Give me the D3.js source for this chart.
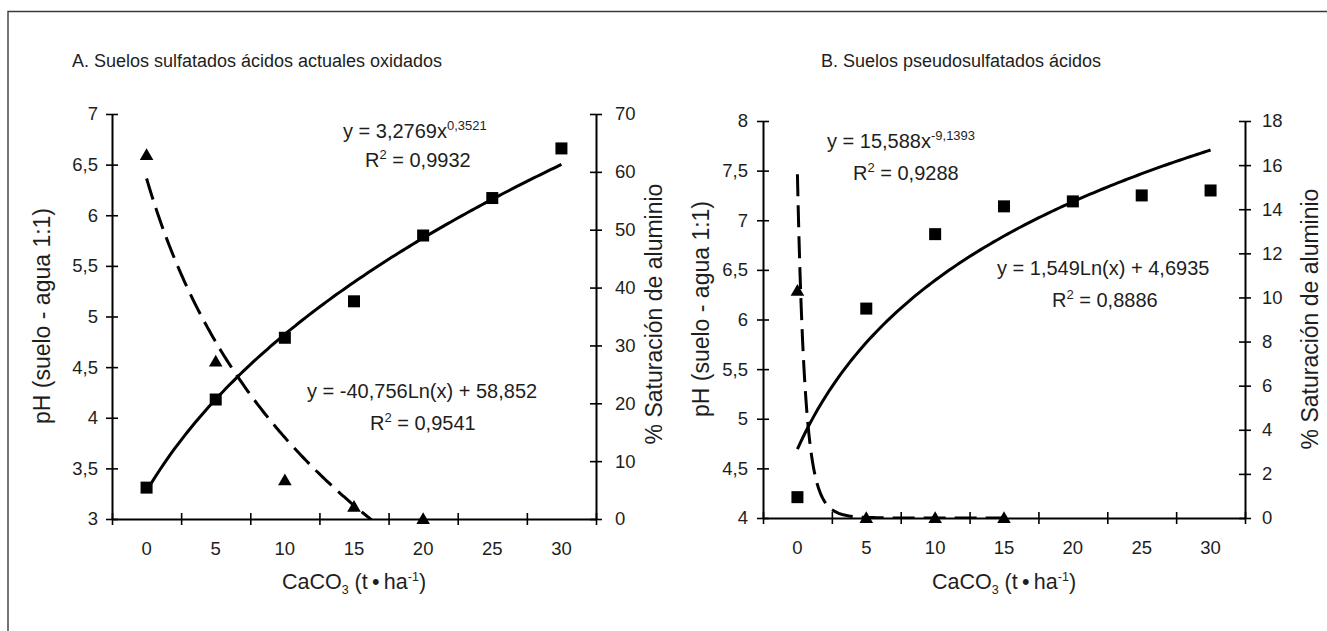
<!DOCTYPE html>
<html>
<head>
<meta charset="utf-8">
<script src="https://cdn.jsdelivr.net/npm/d3@7"></script>
<style>
  html, body { margin: 0; padding: 0; background: #fff; }
  svg { display: block; }
  text { font-family: "Liberation Sans", Arial, Helvetica, sans-serif; fill: #1e1e1e; }
</style>
</head>
<body>
<svg id="chart" width="1327" height="631"></svg>
<script>
// ---------------- data ----------------
const categories = [0, 5, 10, 15, 20, 25, 30];

// Panel A: Suelos sulfatados ácidos actuales oxidados
const phA = [3.31, 4.18, 4.79, 5.15, 5.80, 6.17, 6.66];
const alA = [62.9, 27.2, 6.7, 2.1, 0];           // at 0,5,10,15,20
// Panel B: Suelos pseudosulfatados ácidos
const phB = [4.21, 6.11, 6.86, 7.14, 7.19, 7.25, 7.30];
const alB = [10.3, 0, 0, 0];                      // at 0,5,10,15

const titles = ["A. Suelos sulfatados ácidos actuales oxidados", "B. Suelos pseudosulfatados ácidos"];
const phTicksA = [3, 3.5, 4, 4.5, 5, 5.5, 6, 6.5, 7];
const alTicksA = [0, 10, 20, 30, 40, 50, 60, 70];
const phTicksB = [4, 4.5, 5, 5.5, 6, 6.5, 7, 7.5, 8];
const alTicksB = [0, 2, 4, 6, 8, 10, 12, 14, 16, 18];

// trendline equations as printed on the chart (x = category index 1..7)
const trendPhA = { a: 3.2769, b: 0.3521 };      // power
const trendAlA = { a: -40.756, b: 58.852 };     // log
const trendPhB = { a: 1.549, b: 4.6935 };       // log
const trendAlB = { a: 15.588, b: -9.1393 };     // power

const eqA1 = ["y = 3,2769x", "0,3521"], r2A1 = "0,9932";
const eqA2 = "y = -40,756Ln(x) + 58,852", r2A2 = "0,9541";
const eqB1 = ["y = 15,588x", "-9,1393"], r2B1 = "0,9288";
const eqB2 = "y = 1,549Ln(x) + 4,6935", r2B2 = "0,8886";

// ---------------- drawing ----------------
const svg = d3.select("#chart");
const fmt = d => String(d).replace(".", ",");

// outer frame (left and top edges only)
svg.append("path").attr("d", "M8,631 L8,11.5 L1327,11.5")
  .attr("fill", "none").attr("stroke", "#3a3a3a").attr("stroke-width", 1.4);

function panel(cfg) {
  const g = svg.append("g");
  const x = d3.scaleLinear().domain([0.5, categories.length + 0.5]).range([cfg.x0, cfg.x1]);
  const yPh = d3.scaleLinear().domain(cfg.phDomain).range([cfg.yb, cfg.yt]);
  const yAl = d3.scaleLinear().domain(cfg.alDomain).range([cfg.yb, cfg.yt]);

  const clipId = "clip" + cfg.id;
  svg.append("clipPath").attr("id", clipId).append("rect")
    .attr("x", cfg.x0).attr("y", cfg.yt - 40).attr("width", cfg.x1 - cfg.x0).attr("height", cfg.yb - cfg.yt + 40);

  // title
  g.append("text").attr("x", cfg.titleX).attr("y", 67).attr("text-anchor", "middle")
    .attr("font-size", 18).text(cfg.title);

  // x axis
  const boundaries = d3.range(0.5, categories.length + 1, 1);
  const xAxis = g.append("g").attr("transform", `translate(0,${cfg.yb})`)
    .call(d3.axisBottom(x).tickValues(boundaries).tickSizeOuter(0).tickSizeInner(6).tickFormat(""));
  xAxis.selectAll(".tick line").attr("y1", -6).attr("y2", 6).attr("stroke", "#000").attr("stroke-width", 1.6);
  xAxis.select(".domain").attr("stroke", "#000").attr("stroke-width", 2);
  g.selectAll(".xlab").data(categories).enter().append("text")
    .attr("x", (d, i) => x(i + 1)).attr("y", cfg.yb + 36).attr("text-anchor", "middle")
    .attr("font-size", 18.5).text(d => d);

  // left axis (pH)
  const la = g.append("g").attr("transform", `translate(${cfg.x0},0)`)
    .call(d3.axisLeft(yPh).tickValues(cfg.phTicks).tickSizeOuter(0).tickFormat(fmt));
  la.selectAll(".tick line").attr("x1", -6).attr("x2", 6).attr("stroke", "#000").attr("stroke-width", 1.6);
  la.select(".domain").attr("stroke", "#000").attr("stroke-width", 2);
  la.selectAll(".tick text").attr("x", -cfg.leftPad).attr("font-size", 18.5)
    .attr("font-family", "Liberation Sans, Arial, sans-serif").attr("fill", "#1e1e1e");

  // right axis (% Al)
  const ra = g.append("g").attr("transform", `translate(${cfg.x1},0)`)
    .call(d3.axisRight(yAl).tickValues(cfg.alTicks).tickSizeOuter(0).tickFormat(fmt));
  ra.selectAll(".tick line").attr("x1", -6).attr("x2", 6).attr("stroke", "#000").attr("stroke-width", 1.6);
  ra.select(".domain").attr("stroke", "#000").attr("stroke-width", 2);
  ra.selectAll(".tick text").attr("x", cfg.rightPad).attr("font-size", 18.5)
    .attr("font-family", "Liberation Sans, Arial, sans-serif").attr("fill", "#1e1e1e");

  // axis titles
  g.append("text").attr("transform", `translate(${cfg.phLabX},${cfg.phLabY}) rotate(-90)`)
    .attr("text-anchor", "middle").attr("font-size", 23).text("pH (suelo - agua 1:1)");
  g.append("text").attr("transform", `translate(${cfg.alLabX},${cfg.alLabY}) rotate(-90)`)
    .attr("text-anchor", "middle").attr("font-size", 23).text("% Saturación de aluminio");

  const xl = g.append("text").attr("x", (cfg.x0 + cfg.x1) / 2).attr("y", 589)
    .attr("text-anchor", "middle").attr("font-size", 21.5);
  xl.append("tspan").text("CaCO");
  xl.append("tspan").attr("font-size", 12.5).attr("dy", 5).text("3");
  xl.append("tspan").attr("dy", -5).text(" (t\u2009\u2022\u2009ha");
  xl.append("tspan").attr("font-size", 12.5).attr("dy", -8).text("-1");
  xl.append("tspan").attr("dy", 8).text(")");

  // trendlines
  const solidPts = d3.range(1, categories.length + 0.0001, 0.05).map(v => [v, cfg.phTrend(v)]);
  g.append("path").datum(solidPts)
    .attr("d", d3.line().x(d => x(d[0])).y(d => yPh(d[1])).curve(d3.curveLinear))
    .attr("fill", "none").attr("stroke", "#000").attr("stroke-width", 3);

  const dashPts = cfg.alTrendXs.map(v => [v, cfg.alTrend(v)]);
  g.append("path").datum(dashPts)
    .attr("clip-path", `url(#${clipId})`)
    .attr("d", d3.line().x(d => x(d[0])).y(d => yAl(Math.max(d[1], cfg.alDomain[0] - 1))))
    .attr("fill", "none").attr("stroke", "#000").attr("stroke-width", 3)
    .attr("stroke-dasharray", "22,9");

  // markers
  g.selectAll(".sq").data(cfg.ph).enter().append("rect")
    .attr("x", (d, i) => x(i + 1) - 6).attr("y", d => yPh(d) - 6)
    .attr("width", 12).attr("height", 12).attr("fill", "#000");
  const tri = d3.symbol().type(d3.symbolTriangle).size(80);
  g.selectAll(".tri").data(cfg.al).enter().append("path")
    .attr("d", tri).attr("transform", (d, i) => `translate(${x(i + 1)},${yAl(d) + 1})`)
    .attr("fill", "#000");

  // equations
  const eq = (xx, yy, parts) => {
    const t = g.append("text").attr("x", xx).attr("y", yy).attr("font-size", 20);
    if (Array.isArray(parts)) {
      t.append("tspan").text(parts[0]);
      t.append("tspan").attr("font-size", 13).attr("dy", -8).text(parts[1]);
    } else t.text(parts);
  };
  const r2 = (xx, yy, v) => {
    const t = g.append("text").attr("x", xx).attr("y", yy).attr("font-size", 20);
    t.append("tspan").text("R");
    t.append("tspan").attr("font-size", 13).attr("dy", -8).text("2");
    t.append("tspan").attr("dy", 8).text(" = " + v);
  };
  cfg.eqs.forEach(e => e.r2 ? r2(e.x, e.y, e.t) : eq(e.x, e.y, e.t));
}

panel({
  id: "A", title: titles[0], titleX: 257,
  x0: 112, x1: 596, yt: 114, yb: 519,
  phDomain: [3, 7], alDomain: [0, 70], phTicks: phTicksA, alTicks: alTicksA,
  leftPad: 14, rightPad: 19,
  phLabX: 50, phLabY: 316, alLabX: 662, alLabY: 314,
  ph: phA, al: alA,
  phTrend: v => trendPhA.a * Math.pow(v, trendPhA.b),
  alTrend: v => trendAlA.a * Math.log(v) + trendAlA.b,
  alTrendXs: d3.range(1, 4.3, 0.02),
  eqs: [
    { x: 343, y: 138, t: eqA1 }, { x: 365, y: 167, t: r2A1, r2: true },
    { x: 307, y: 398, t: eqA2 }, { x: 370, y: 430, t: r2A2, r2: true }
  ]
});

panel({
  id: "B", title: titles[1], titleX: 961,
  x0: 763, x1: 1245, yt: 121, yb: 518,
  phDomain: [4, 8], alDomain: [0, 18], phTicks: phTicksB, alTicks: alTicksB,
  leftPad: 15, rightPad: 17,
  phLabX: 709, phLabY: 309, alLabX: 1318, alLabY: 319,
  ph: phB, al: alB,
  phTrend: v => trendPhB.a * Math.log(v) + trendPhB.b,
  alTrend: v => trendAlB.a * Math.pow(v, trendAlB.b),
  alTrendXs: d3.range(1, 1.5, 0.004).concat(d3.range(1.5, 4.0001, 0.05)),
  eqs: [
    { x: 827, y: 148, t: eqB1 }, { x: 853, y: 180, t: r2B1, r2: true },
    { x: 997, y: 275, t: eqB2 }, { x: 1052, y: 307, t: r2B2, r2: true }
  ]
});
</script>
</body>
</html>
